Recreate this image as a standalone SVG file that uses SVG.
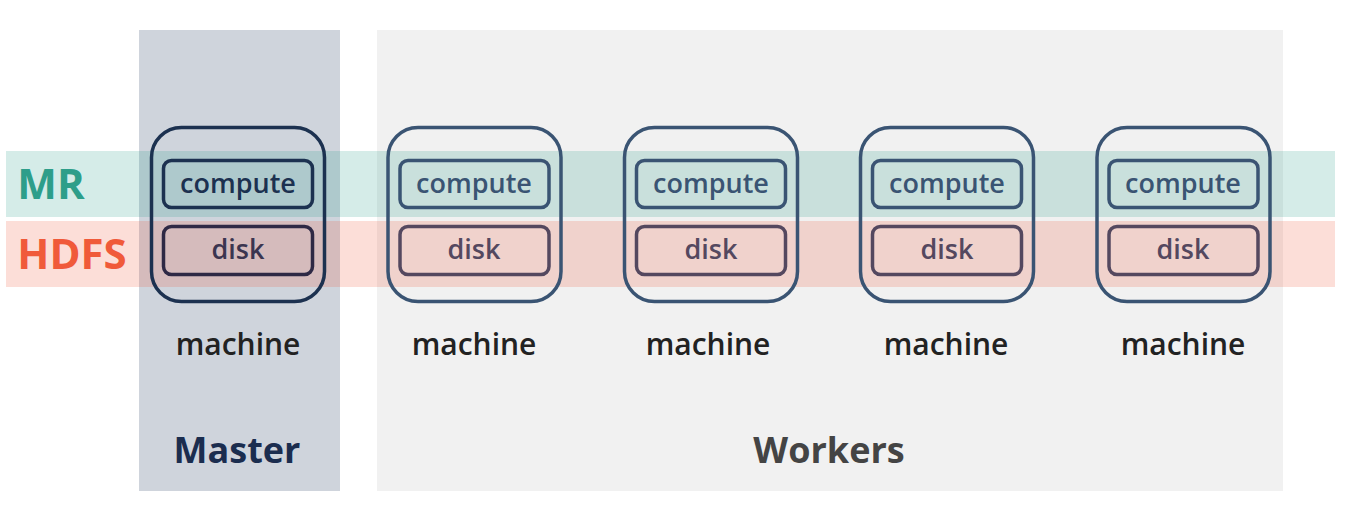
<svg xmlns="http://www.w3.org/2000/svg" width="1360" height="526" viewBox="0 0 1360 526">
<style>
.mach{fill:none;stroke:#3a5473;stroke-width:3.5}
.comp{fill:none;stroke:#3a5473;stroke-width:3.5}
.disk{fill:none;stroke:#54485f;stroke-width:3.5}
.t{font-family:"Open Sans","Noto Sans","DejaVu Sans",sans-serif;text-anchor:middle}
.ct{font-size:27px;font-weight:600;fill:#3a5473}
.dt{font-size:27px;font-weight:600;fill:#54485f}
.mt{font-size:30px;font-weight:600;fill:#222}
</style>
<rect id="master-panel" x="139" y="30" width="201" height="461" fill="#cfd4dc"/>
<rect id="workers-panel" x="377" y="30" width="906" height="461" fill="#f1f1f1"/>
<rect id="mr-band" x="6" y="151" width="1329" height="66" fill="#2e9e8a" fill-opacity="0.2"/>
<rect id="hdfs-band" x="6" y="221" width="1329" height="66" fill="#f05a3a" fill-opacity="0.2"/>
<text class="t" x="51" y="199" font-size="42" font-weight="bold" fill="#2e9e8a">MR</text>
<text class="t" x="72" y="269" font-size="42" font-weight="bold" fill="#f05a3a">HDFS</text>
<g id="m0">
<rect x="151.5" y="127.5" width="173" height="174" rx="30" fill="none" stroke="#1c3150" stroke-width="3.5"/>
<rect x="163.5" y="160.5" width="149" height="47" rx="8" fill="none" stroke="#1c3150" stroke-width="3.5"/>
<text class="t ct" x="238" y="193" style="fill:#1c3150">compute</text>
<rect x="163.5" y="226.5" width="149" height="48" rx="8" fill="none" stroke="#2e2945" stroke-width="3.5"/>
<text class="t dt" x="238" y="259" style="fill:#3b3550">disk</text>
<text class="t mt" x="238" y="355">machine</text>
</g>
<g id="m1">
<rect class="mach" x="388" y="127.5" width="173" height="174" rx="30"/>
<rect class="comp" x="400" y="160.5" width="149" height="47" rx="8"/>
<text class="t ct" x="474" y="193">compute</text>
<rect class="disk" x="400" y="226.5" width="149" height="48" rx="8"/>
<text class="t dt" x="474" y="259">disk</text>
<text class="t mt" x="474" y="355">machine</text>
</g>
<g id="m2">
<rect class="mach" x="624.5" y="127.5" width="173" height="174" rx="30"/>
<rect class="comp" x="636.5" y="160.5" width="149" height="47" rx="8"/>
<text class="t ct" x="711" y="193">compute</text>
<rect class="disk" x="636.5" y="226.5" width="149" height="48" rx="8"/>
<text class="t dt" x="711" y="259">disk</text>
<text class="t mt" x="708" y="355">machine</text>
</g>
<g id="m3">
<rect class="mach" x="860.5" y="127.5" width="173" height="174" rx="30"/>
<rect class="comp" x="872.5" y="160.5" width="149" height="47" rx="8"/>
<text class="t ct" x="947" y="193">compute</text>
<rect class="disk" x="872.5" y="226.5" width="149" height="48" rx="8"/>
<text class="t dt" x="947" y="259">disk</text>
<text class="t mt" x="946" y="355">machine</text>
</g>
<g id="m4">
<rect class="mach" x="1097" y="127.5" width="173" height="174" rx="30"/>
<rect class="comp" x="1109" y="160.5" width="149" height="47" rx="8"/>
<text class="t ct" x="1183" y="193">compute</text>
<rect class="disk" x="1109" y="226.5" width="149" height="48" rx="8"/>
<text class="t dt" x="1183" y="259">disk</text>
<text class="t mt" x="1183" y="355">machine</text>
</g>
<g id="connectors"/>
<text class="t" x="237" y="463" font-size="36" font-weight="bold" fill="#1b2d4f">Master</text>
<text class="t" x="829" y="463" font-size="36" font-weight="bold" fill="#444">Workers</text>
</svg>
